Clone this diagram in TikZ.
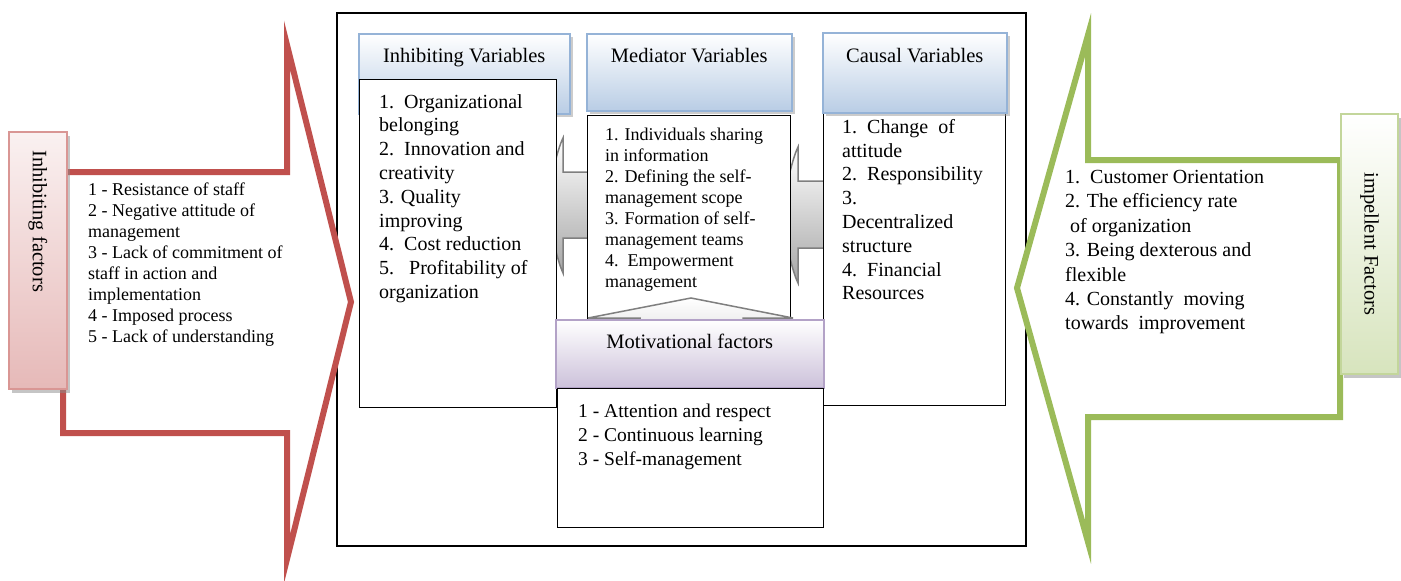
\documentclass[tikz,border=0pt]{standalone}
\usepackage{fontspec}
\setmainfont{Liberation Serif}
\usetikzlibrary{positioning,shadows}

\definecolor{redline}{HTML}{C0504D}
\definecolor{greenline}{HTML}{9BBB59}
\definecolor{blueedge}{HTML}{95B3D7}
\definecolor{bluefill}{HTML}{B9CDE5}
\definecolor{purpleedge}{HTML}{B3A2C7}
\definecolor{purplefill}{HTML}{CCC1DA}
\definecolor{pinkedge}{HTML}{D99694}
\definecolor{pinkfill}{HTML}{E6B9B8}
\definecolor{greenedge}{HTML}{C3D69B}
\definecolor{greenfill}{HTML}{D7E4BD}
\definecolor{arrowedge}{HTML}{7F7F7F}

\begin{document}
\begin{tikzpicture}[x=1pt, y=-1pt,
	box/.style = {anchor=north west, inner sep=0, draw, fill=white, line width=1.2pt},
	bluehead/.style = {anchor=north west, inner sep=0, draw=blueedge, line width=1.5pt,
		top color=white, bottom color=bluefill,
		drop shadow={shadow xshift=3pt, shadow yshift=-3pt, fill=black!40}},
	purplehead/.style = {anchor=north west, inner sep=0, draw=purpleedge, line width=1.5pt,
		top color=white, bottom color=purplefill},
	sidebox/.style = {anchor=north west, inner sep=0, line width=2pt,
		drop shadow={shadow xshift=3pt, shadow yshift=-4pt, fill=black!45}},
	bigarrow/.style = {line width=6pt, line join=miter, fill=white},
	blockarrow/.style = {draw=arrowedge, line width=1.5pt, top color=white, bottom color=black!35},
	title/.style = {inner sep=0, font=\fontsize{20.5}{24}\selectfont},
	small/.style = {inner sep=0, align=left, anchor=north west, font=\fontsize{18}{21}\selectfont},
	normal/.style = {inner sep=0, align=left, anchor=north west, font=\fontsize{20}{23.8}\selectfont}
	]
	\useasboundingbox (0,0) rectangle (1401,581);

	% frame round the model
	\node[box, fill=none, line width=1.5pt, minimum width=689, minimum height=533] (frame) at (336,12) {};

	% grey arrows between the columns
	\draw[blockarrow] (595,172) -- (563,172) -- (563,138) .. controls (557,150) and (549,185) .. (547,205)
		.. controls (549,225) and (557,260) .. (563,273) -- (563,238) -- (595,238) -- cycle;
	\draw[blockarrow] (830,181) -- (798,181) -- (798,147) .. controls (792,159) and (784,195) .. (782,215)
		.. controls (784,235) and (792,271) .. (798,283) -- (798,248) -- (830,248) -- cycle;

	% columns
	\node[box, minimum width=182, minimum height=293] (caulist) at (823,112) {};
	\node[bluehead, minimum width=211, minimum height=80] (inhhead) at (358,33) {};
	\node[bluehead, minimum width=205, minimum height=77] (medhead) at (586,33) {};
	\node[bluehead, minimum width=184, minimum height=80] (cauhead) at (822,32) {};
	\node[box, minimum width=197, minimum height=328] (inhlist) at (359,79) {};
	\node[box, minimum width=203, minimum height=215] (medlist) at (587,115) {};

	\draw[blockarrow, bottom color=black!12] (640,340) -- (640,318) -- (588,318) -- (691,298)
		-- (793,318) -- (743,318) -- (743,340) -- cycle;

	\node[purplehead, minimum width=268, minimum height=68] (mothead) at (555,319) {};
	\node[box, minimum width=266, minimum height=139] (motlist) at (557,388) {};

	% titles
	\node[title, below=29pt of inhhead.north, anchor=base] (inhtitle) {Inhibiting Variables};
	\node[title, below=29pt of medhead.north, anchor=base] (medtitle) {Mediator Variables};
	\node[title, below=30pt of cauhead.north, anchor=base] (cautitle) {Causal Variables};
	\node[title, below=29pt of mothead.north, anchor=base] (mottitle) {Motivational factors};

	% lists
	\node[normal, below right=15pt and 20pt of inhlist.north west] (inhtext)
		{1.\ \ Organizational\\belonging\\2.\ \ Innovation and\\creativity\\3. Quality\\improving\\4.\ \ Cost reduction\\5.\ \ \ Profitability of\\organization};
	\node[small, below right=13pt and 18pt of medlist.north west] (medtext)
		{1. Individuals sharing\\in information\\2. Defining the self-\\management scope\\3. Formation of self-\\management teams\\4.\ \ Empowerment\\management};
	\node[normal, below right=7pt and 19pt of caulist.north west] (cautext)
		{1.\ \ Change\ \ of\\attitude\\2.\ \ Responsibility\\3.\\Decentralized\\structure\\4.\ \ Financial\\Resources};
	\node[normal, font=\fontsize{19.5}{24}\selectfont, below right=16pt and 21pt of motlist.north west] (mottext)
		{1 - Attention and respect\\2 - Continuous learning\\3 - Self-management};

	% big arrows on both sides
	\draw[bigarrow, draw=redline] (63,172) -- (287,172) -- (287,45) -- (351,302) -- (287,559)
		-- (287,433) -- (63,433) -- cycle;
	\draw[bigarrow, draw=greenline] (1340,160) -- (1088,160) -- (1088,35) -- (1017,288) -- (1088,542)
		-- (1088,417) -- (1340,417) -- cycle;

	\node[sidebox, draw=pinkedge, top color=pinkfill!20, bottom color=pinkfill,
		minimum width=58, minimum height=257] (inhfac) at (8,131) {};
	\node[sidebox, draw=greenedge, top color=white, bottom color=greenfill,
		minimum width=57, minimum height=260] (impfac) at (1340,113) {};
	\node[title, below=19pt of inhfac.north, anchor=west, rotate=-90] (inhlabel) {Inhibiting factors};
	\node[title, rotate=-90] (implabel) at (impfac.center) {impellent Factors};

	\node[small, below right=52pt and 20pt of inhfac.north east] (inhfactext)
		{1 - Resistance of staff\\2 - Negative attitude of\\management\\3 - Lack of commitment of\\staff in action and\\implementation\\4 - Imposed process\\5 - Lack of understanding};
	\node[normal, font=\fontsize{20}{24.4}\selectfont] (impfactext) at (1065,170)
		{1.\ \ Customer Orientation\\2. The efficiency rate\\\ of organization\\3. Being dexterous and\\flexible\\4. Constantly\ \ moving\\towards\ \ improvement};
\end{tikzpicture}
\end{document}
